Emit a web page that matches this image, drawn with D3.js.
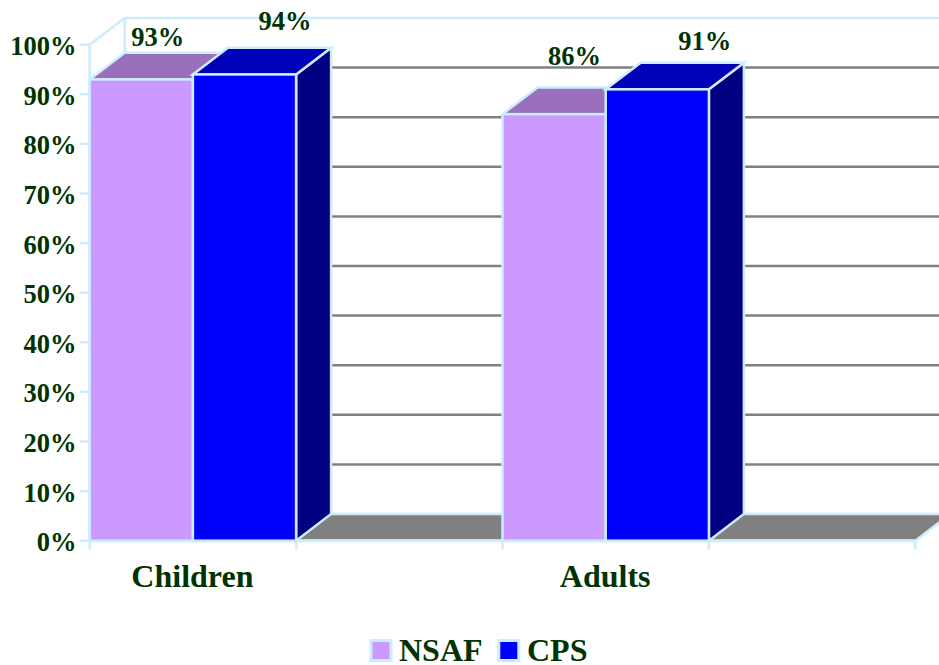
<!DOCTYPE html>
<html><head><meta charset="utf-8">
<script src="https://cdnjs.cloudflare.com/ajax/libs/d3/7.8.5/d3.min.js"></script>
<style>html,body{margin:0;padding:0;background:#fff;overflow:hidden}svg{display:block}
text{font-family:"Liberation Serif",serif;font-weight:bold;fill:#003300}</style>
</head><body><svg id="c" width="939" height="665"></svg>
<script>
const categories = ["Children", "Adults"];
const seriesNames = ["NSAF", "CPS"];
const nsafValues = [93, 86];
const cpsValues = [94, 91];
const yTicks = [0,10,20,30,40,50,60,70,80,90,100];

const faceColors = {NSAF:{front:"#CC99FF",top:"#9A70BC",side:"#663399"},CPS:{front:"#0000FF",top:"#0000B8",side:"#000080"}};
const edge = "#CCECFF", grid = "#808080";
const depthX = 35, depthY = 26.7;

const svg = d3.select("#c");
const x0 = d3.scaleBand().domain(categories).range([89.7,915.3]).paddingInner(0.5).paddingOuter(0.25).align(0);
const x1 = d3.scaleBand().domain(seriesNames).range([0,x0.bandwidth()]);
const y = d3.scaleLinear().domain([0,100]).range([540.7,44.7]);
const path = pts => "M"+pts.map(p=>p.join(",")).join("L")+"Z";
const [xL,xEnd] = x0.range();

// walls
const wall = svg.append("g").attr("fill","none").attr("stroke",edge).attr("stroke-width",2.5);
wall.append("path").attr("d",`M${xL},${y(100)}L${xL+depthX},${y(100)-depthY}L${xEnd+depthX+40},${y(100)-depthY}`);
wall.append("path").attr("d",`M${xL+depthX},${y(100)-depthY}V${y(0)-depthY}`);

// gridlines on back wall
svg.append("g").selectAll("line").data(yTicks.filter(t=>t>0&&t<100)).join("line")
  .attr("x1",xL+depthX).attr("x2",xEnd+depthX+40)
  .attr("y1",t=>y(t)-depthY).attr("y2",t=>y(t)-depthY)
  .attr("stroke",grid).attr("stroke-width",2.5);

// floor
svg.append("path").attr("d",path([[xL,y(0)],[xL+depthX,y(0)-depthY],[xEnd+depthX,y(0)-depthY],[xEnd,y(0)]]))
  .attr("fill",grid).attr("stroke",edge).attr("stroke-width",2.5);

// axes
svg.append("line").attr("x1",xL).attr("x2",xL).attr("y1",y(100)).attr("y2",y(0)).attr("stroke",edge).attr("stroke-width",2.5);
svg.append("line").attr("x1",xL).attr("x2",xEnd).attr("y1",y(0)).attr("y2",y(0)).attr("stroke",edge).attr("stroke-width",3);
svg.append("g").selectAll("line").data(yTicks).join("line")
  .attr("x1",xL-10).attr("x2",xL).attr("y1",t=>y(t)).attr("y2",t=>y(t))
  .attr("stroke",edge).attr("stroke-width",2.5);
const tickXs = categories.flatMap(c=>[x0(c),x0(c)+x0.bandwidth()]).concat([xEnd]);
svg.append("g").selectAll("line").data(tickXs).join("line")
  .attr("x1",d=>d).attr("x2",d=>d).attr("y1",y(0)).attr("y2",y(0)+9)
  .attr("stroke",edge).attr("stroke-width",2.5);
svg.append("g").selectAll("text").data(yTicks).join("text")
  .attr("x",76.5).attr("y",t=>y(t)+10.4).attr("text-anchor","end").attr("font-size",26.5).text(t=>t+"%");

// bars
const rows = categories.flatMap((c,i)=>[
  {c,s:"NSAF",v:nsafValues[i]},{c,s:"CPS",v:cpsValues[i]}]);
const bars = svg.append("g").selectAll("g").data(rows).join("g")
  .attr("stroke",edge).attr("stroke-width",2.5).attr("stroke-linejoin","miter");
bars.each(function(d){
  const g=d3.select(this), l=x0(d.c)+x1(d.s), r=l+x1.bandwidth(), t=y(d.v), b=y(0), col=faceColors[d.s];
  g.append("path").attr("d",path([[r,t],[r+depthX,t-depthY],[r+depthX,b-depthY],[r,b]])).attr("fill",col.side);
  g.append("path").attr("d",path([[l,t],[l+depthX,t-depthY],[r+depthX,t-depthY],[r,t]])).attr("fill",col.top);
  g.append("rect").attr("x",l).attr("y",t).attr("width",r-l).attr("height",b-t).attr("fill",col.front);
});

// data labels (chart nudges each label by hand)
const labelNudge = [[16.5,-33.5],[40.5,-44],[20.5,-49.5],[47.5,-39.5]];
svg.append("g").selectAll("text").data(rows).join("text")
  .attr("x",(d,i)=>x0(d.c)+x1(d.s)+x1.bandwidth()/2+labelNudge[i][0])
  .attr("y",(d,i)=>y(d.v)+labelNudge[i][1])
  .attr("text-anchor","middle").attr("font-size",26.5).text(d=>d.v+"%");

// category labels
svg.append("g").selectAll("text").data(categories).join("text")
  .attr("x",c=>x0(c)+x0.bandwidth()/2-0.5).attr("y",587).attr("text-anchor","middle").attr("font-size",32).text(c=>c);

// legend
const legendX = {NSAF:[371,399],CPS:[498.8,527]};
const lg = svg.append("g").selectAll("g").data(seriesNames).join("g");
lg.append("rect").attr("x",s=>legendX[s][0]).attr("y",640.5).attr("width",20).attr("height",20)
  .attr("fill",s=>faceColors[s].front).attr("stroke",edge).attr("stroke-width",3);
lg.append("text").attr("x",s=>legendX[s][1]).attr("y",660.7).attr("font-size",32).text(s=>s);
</script></body></html>
